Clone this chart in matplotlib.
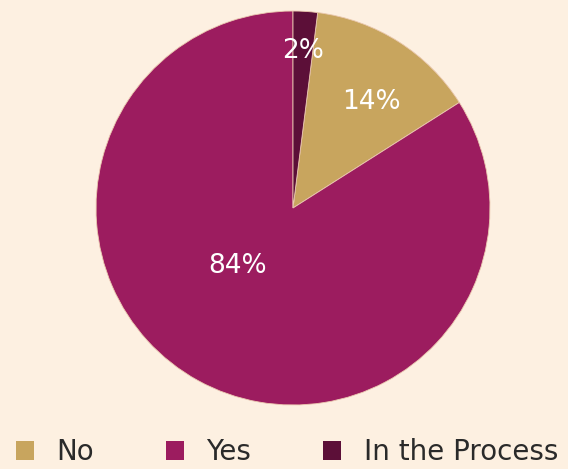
import numpy as np
import matplotlib.pyplot as plt
from matplotlib.patches import Patch

labels = ["No", "Yes", "In the Process"]
valores = [14, 84, 2]
cores = ["#C8A55E", "#9C1C5F", "#5C0F38"]
fundo = "#FDF0E1"

fig = plt.figure(figsize=(5.68, 4.69), dpi=100, facecolor=fundo)
ax = fig.add_axes([0.169, 0.1365, 0.6937, 0.840])
ax.set_facecolor(fundo)

# inicio do "No" logo depois da fatia de 2% no topo
inicio = 90 - 360 * valores[2] / sum(valores)
wedges, _ = ax.pie(valores, colors=cores, startangle=inicio, counterclock=False,
                   wedgeprops=dict(edgecolor="#EBC9B0", linewidth=0.6))
ax.set_xlim(-1, 1)
ax.set_ylim(-1, 1)
ax.set_aspect("equal")

# posicao dos rotulos (raio relativo e desvio de angulo)
raio_rotulo = [0.67, 0.41, 0.80]
desvio_ang = [-4, -15, 0]
for w, v, r, d in zip(wedges, valores, raio_rotulo, desvio_ang):
    ang = np.deg2rad((w.theta1 + w.theta2) / 2 + d)
    ax.text(r * np.cos(ang), r * np.sin(ang), f"{v}%", color="white",
            fontsize=19, ha="center", va="center")

handles = [Patch(facecolor=c, edgecolor="none") for c in cores]
fig.legend(handles, labels, loc="center", bbox_to_anchor=(0.505, 0.036), ncol=3,
           frameon=False, fontsize=20, handlelength=0.65, handleheight=0.65,
           columnspacing=2.6, handletextpad=0.8, labelcolor="#2A2A2A")

fig.savefig("out.png", dpi=100, facecolor=fundo)
